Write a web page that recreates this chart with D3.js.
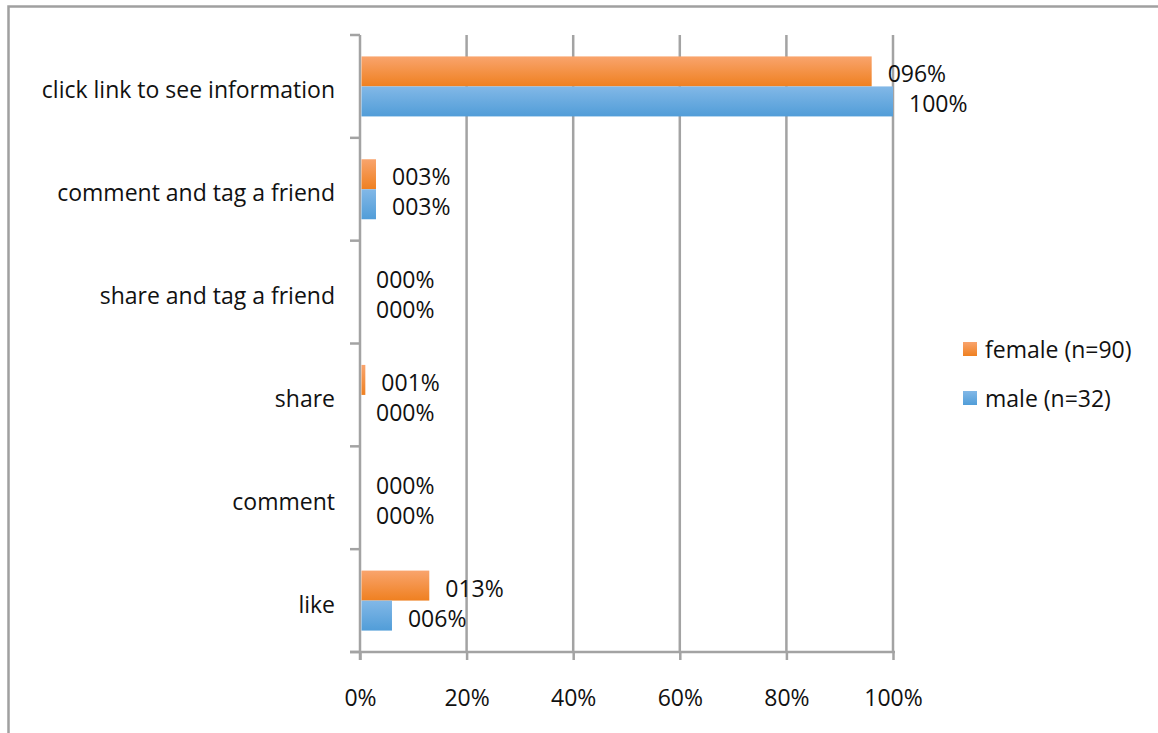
<!DOCTYPE html>
<html>
<head>
<meta charset="utf-8">
<script src="https://cdn.jsdelivr.net/npm/d3@7"></script>
<style>
  html, body { margin: 0; padding: 0; background: #fff; }
  svg { display: block; }
  text { font-family: "Open Sans", sans-serif; fill: #111; }
</style>
</head>
<body>
<script>
// Categories listed top to bottom
const categories = [
  "click link to see information",
  "comment and tag a friend",
  "share and tag a friend",
  "share",
  "comment",
  "like"
];
const seriesNames = ["female (n=90)", "male (n=32)"];
const femaleValues = [96, 3, 0, 1, 0, 13];
const maleValues = [100, 3, 0, 0, 0, 6];
const xTicks = [0, 20, 40, 60, 80, 100];

const W = 1158, H = 733;
const svg = d3.select("body").append("svg").attr("width", W).attr("height", H);

const defs = svg.append("defs");
function grad(id, top, bottom) {
  const g = defs.append("linearGradient").attr("id", id)
    .attr("x1", 0).attr("y1", 0).attr("x2", 0).attr("y2", 1);
  g.append("stop").attr("offset", "0%").attr("stop-color", top);
  g.append("stop").attr("offset", "100%").attr("stop-color", bottom);
}
grad("gFemale", "#f9a46d", "#ef8020");
grad("gMale", "#82b8e7", "#519dd8");
const fills = ["url(#gFemale)", "url(#gMale)"];

// Outer frame
svg.append("rect").attr("x", 8.5).attr("y", 6.5).attr("width", W + 20).attr("height", H + 20)
  .attr("fill", "none").attr("stroke", "#a0a0a0").attr("stroke-width", 2.5);

const plot = { left: 360, right: 893, top: 35, bottom: 652 };
const x = d3.scaleLinear().domain([0, 100]).range([plot.left, plot.right]);
const y = d3.scaleBand().domain(categories).range([plot.top, plot.bottom]);

const gridColor = "#a3a3a3";
const fontSize = "23px";

// Vertical gridlines
svg.append("g").selectAll("line").data(xTicks.slice(1)).join("line")
  .attr("x1", d => x(d)).attr("x2", d => x(d))
  .attr("y1", plot.top).attr("y2", plot.bottom)
  .attr("stroke", gridColor).attr("stroke-width", 2.5);

// Bottom axis
const xAxis = svg.append("g").attr("transform", `translate(0,${plot.bottom})`)
  .call(d3.axisBottom(x).tickValues(xTicks).tickFormat(d => d + "%").tickSize(8).tickPadding(30));
xAxis.select(".domain").attr("d", `M${plot.left - 10},0H${plot.right + 2}`)
  .attr("stroke", gridColor).attr("stroke-width", 2.5);
xAxis.selectAll(".tick line").attr("stroke", gridColor).attr("stroke-width", 2.5);
xAxis.selectAll(".tick text").style("font-size", fontSize)
  .style("font-family", "'Open Sans', sans-serif").attr("fill", "#111");

// Left axis with ticks at band boundaries
const yBounds = categories.map(c => y(c)).concat([plot.bottom]);
svg.append("line").attr("x1", plot.left).attr("x2", plot.left)
  .attr("y1", plot.top).attr("y2", plot.bottom + 8)
  .attr("stroke", gridColor).attr("stroke-width", 2.5);
svg.append("g").selectAll("line").data(yBounds).join("line")
  .attr("x1", plot.left - 10).attr("x2", plot.left)
  .attr("y1", d => d).attr("y2", d => d)
  .attr("stroke", gridColor).attr("stroke-width", 2.5);

// Category labels
svg.append("g").selectAll("text").data(categories).join("text")
  .attr("x", 335).attr("y", d => y(d) + y.bandwidth() / 2 + 3)
  .attr("text-anchor", "end").attr("dominant-baseline", "central")
  .style("font-size", fontSize).text(d => d);

// Bars
const barH = 30;
const rows = categories.map((c, i) => [
  { cat: c, s: 0, v: femaleValues[i] },
  { cat: c, s: 1, v: maleValues[i] }
]).flat();
const barY = d => y(d.cat) + y.bandwidth() / 2 - barH + d.s * barH;

svg.append("g").selectAll("rect").data(rows.filter(d => d.v > 0)).join("rect")
  .attr("x", x(0) + 1.5).attr("y", barY)
  .attr("width", d => x(d.v) - x(0) - 1.5).attr("height", barH)
  .attr("fill", d => fills[d.s]);

// Value labels
const fmt = d3.format("03d");
svg.append("g").selectAll("text").data(rows).join("text")
  .attr("x", d => x(d.v) + 16).attr("y", d => barY(d) + barH / 2 + 2)
  .attr("dominant-baseline", "central")
  .style("font-size", fontSize).text(d => fmt(d.v) + "%");

// Legend
const legend = svg.append("g");
seriesNames.forEach((name, i) => {
  const ly = 349 + i * 49;
  legend.append("rect").attr("x", 963).attr("y", ly - 7).attr("width", 14).attr("height", 14)
    .attr("fill", fills[i]);
  legend.append("text").attr("x", 985).attr("y", ly)
    .attr("dominant-baseline", "central").style("font-size", fontSize).text(name);
});
</script>
</body>
</html>
